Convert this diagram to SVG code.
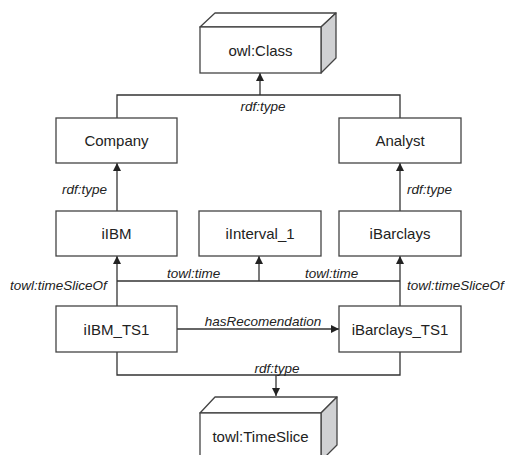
<svg xmlns="http://www.w3.org/2000/svg" width="505" height="455" viewBox="0 0 505 455">
<defs>
<style>
.box{fill:#fff;stroke:#444;stroke-width:1.3}
.side{fill:#d0d1d3;stroke:#444;stroke-width:1.3;stroke-linejoin:round}
.top{fill:#fff;stroke:#444;stroke-width:1.3;stroke-linejoin:round}
.lbl{font-family:"Liberation Sans",Arial,sans-serif;font-size:15px;fill:#222;text-anchor:middle}
.el{font-family:"Liberation Sans",Arial,sans-serif;font-size:13.5px;font-style:italic;fill:#222}
.c{fill:none;stroke:#333;stroke-width:1.3}
</style>
<marker id="ah" viewBox="0 0 10 10" refX="10" refY="5" markerWidth="8" markerHeight="8" markerUnits="userSpaceOnUse" orient="auto">
<path d="M0,0 L10,5 L0,10 z" fill="#222"/>
</marker>
</defs>
<g id="connectors">
<path class="c" d="M117,118 V95 H400 V118"/>
<path class="c" d="M260,95 V73" marker-end="url(#ah)"/>
<path class="c" d="M117,211 V163" marker-end="url(#ah)"/>
<path class="c" d="M400,211 V163" marker-end="url(#ah)"/>
<path class="c" d="M117,306 V256" marker-end="url(#ah)"/>
<path class="c" d="M400,306 V256" marker-end="url(#ah)"/>
<path class="c" d="M117,281 H400"/>
<path class="c" d="M259,281 V256" marker-end="url(#ah)"/>
<path class="c" d="M177,329 H339" marker-end="url(#ah)"/>
<path class="c" d="M117,352 V375 H400 V352"/>
<path class="c" d="M276,375 V396" marker-end="url(#ah)"/>
<text class="el" x="263" y="111" text-anchor="middle">rdf:type</text>
<text class="el" x="62" y="194">rdf:type</text>
<text class="el" x="407" y="194">rdf:type</text>
<text class="el" x="167" y="278">towl:time</text>
<text class="el" x="305" y="278">towl:time</text>
<text class="el" x="10" y="290">towl:timeSliceOf</text>
<text class="el" x="407" y="290">towl:timeSliceOf</text>
<text class="el" x="263" y="326" text-anchor="middle">hasRecomendation</text>
<text class="el" x="277" y="373" text-anchor="middle">rdf:type</text>
</g>
<g id="owlClass">
<path class="top" d="M200,27 L215,13 H336 L321,27 Z"/>
<path class="side" d="M321,27 L336,13 V58 L321,73 Z"/>
<rect class="box" x="200" y="27" width="121" height="46"/>
<text class="lbl" x="260.5" y="55.5">owl:Class</text>
</g>
<g id="company">
<rect class="box" x="56" y="118" width="121" height="45"/>
<text class="lbl" x="116.5" y="146">Company</text>
</g>
<g id="analyst">
<rect class="box" x="339" y="118" width="122" height="45"/>
<text class="lbl" x="400" y="146">Analyst</text>
</g>
<g id="iBM">
<rect class="box" x="56" y="211" width="121" height="45"/>
<text class="lbl" x="116.5" y="239">iIBM</text>
</g>
<g id="iInterval_1">
<rect class="box" x="199" y="211" width="122" height="45"/>
<text class="lbl" x="260" y="239">iInterval_1</text>
</g>
<g id="iBarclays">
<rect class="box" x="339" y="211" width="122" height="45"/>
<text class="lbl" x="400" y="239">iBarclays</text>
</g>
<g id="iBM_TS1">
<rect class="box" x="56" y="306" width="121" height="46"/>
<text class="lbl" x="116.5" y="334.5">iIBM_TS1</text>
</g>
<g id="iBarclays_TS1">
<rect class="box" x="339" y="306" width="122" height="46"/>
<text class="lbl" x="400" y="334.5">iBarclays_TS1</text>
</g>
<g id="timeSlice">
<path class="top" d="M200,413 L215,397 H337 L321,413 Z"/>
<path class="side" d="M321,413 L337,397 V445 L321,461 Z"/>
<rect class="box" x="200" y="413" width="121" height="50"/>
<text class="lbl" x="260.5" y="442">towl:TimeSlice</text>
</g>
</svg>
